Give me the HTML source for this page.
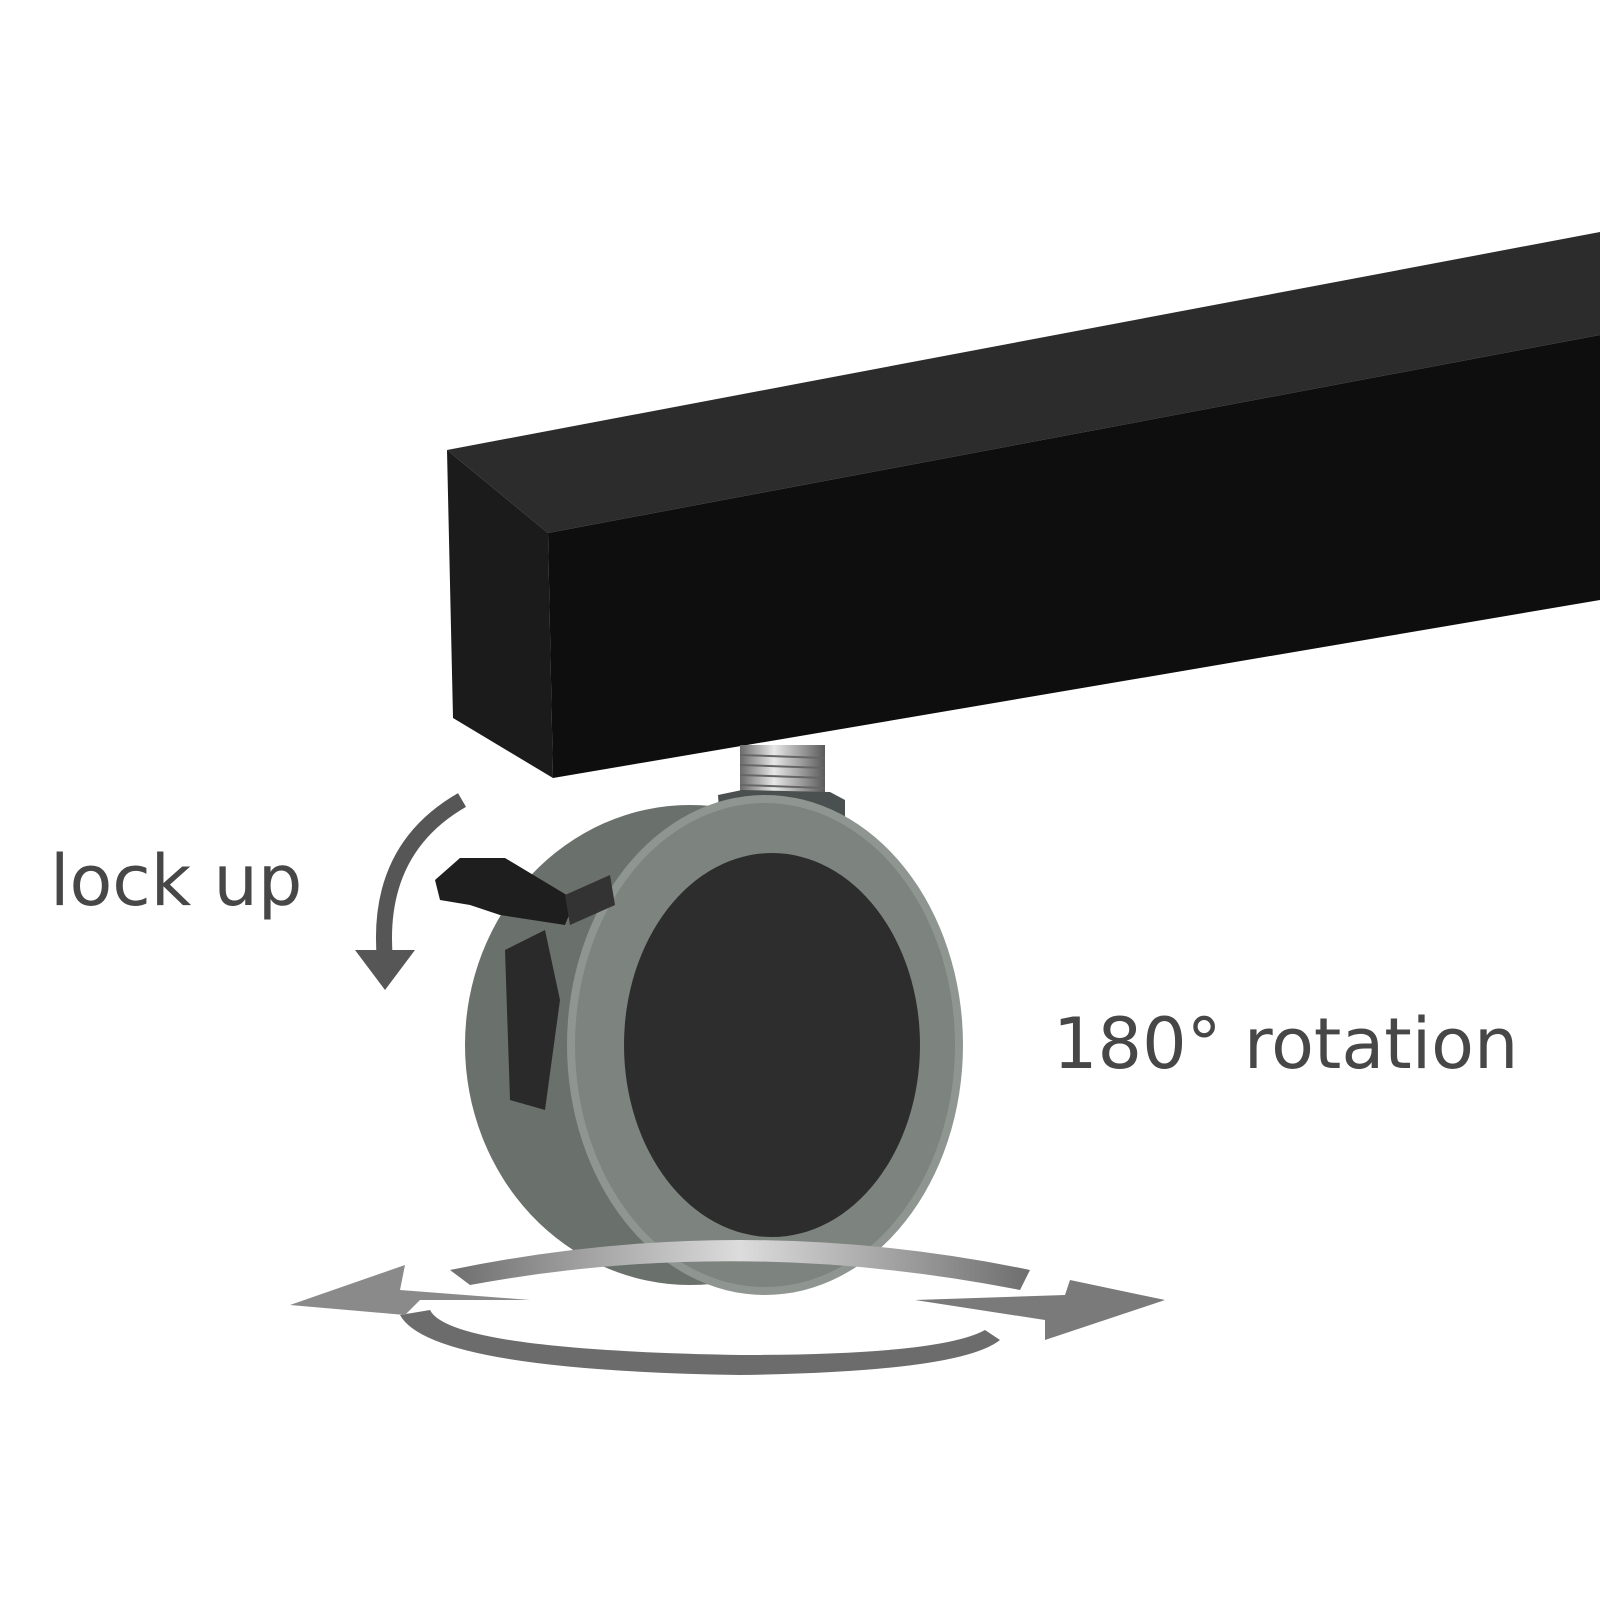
<!DOCTYPE html>
<html><head><style>
html,body{margin:0;padding:0;background:#fff;}
svg{display:block}
text{font-family:"DejaVu Sans","Liberation Sans",sans-serif;fill:#474747;}
</style></head><body>
<svg width="1600" height="1600" viewBox="0 0 1600 1600" xmlns="http://www.w3.org/2000/svg">
<defs>
<linearGradient id="scr" x1="0" x2="1" y1="0" y2="0">
<stop offset="0" stop-color="#6a6a6a"/><stop offset="0.4" stop-color="#e8e8e8"/><stop offset="1" stop-color="#5a5a5a"/></linearGradient>
<linearGradient id="ring" x1="0" x2="1" y1="0" y2="0">
<stop offset="0" stop-color="#6e6e6e"/><stop offset="0.5" stop-color="#dcdcdc"/><stop offset="1" stop-color="#6e6e6e"/></linearGradient>
</defs>
<!-- beam -->
<polygon points="447,450 1600,232 1600,335 548,533" fill="#2c2c2c"/>
<polygon points="447,450 548,533 553,778 453,718" fill="#1b1b1b"/>
<polygon points="548,533 1600,335 1600,600 553,778" fill="#0e0e0e"/>
<!-- screw -->
<rect x="740" y="745" width="85" height="60" fill="url(#scr)"/>
<g stroke="#666" stroke-width="2">
<line x1="740" y1="755" x2="825" y2="758"/><line x1="740" y1="765" x2="825" y2="768"/><line x1="740" y1="775" x2="825" y2="778"/><line x1="740" y1="785" x2="825" y2="788"/><line x1="740" y1="795" x2="825" y2="798"/></g>
<!-- stem housing -->
<polygon points="718,795 742,790 830,792 845,800 845,880 800,870 720,825" fill="#4a4f50"/>
<!-- wheel back band -->
<ellipse cx="690" cy="1045" rx="225" ry="240" fill="#6a706c"/>
<!-- wheel face -->
<ellipse cx="765" cy="1045" rx="198" ry="250" fill="#8f9691"/>
<ellipse cx="765" cy="1045" rx="190" ry="242" fill="#7d847f"/>
<ellipse cx="772" cy="1045" rx="148" ry="192" fill="#2d2d2d"/>
<!-- lock mechanism -->
<polygon points="505,950 545,930 560,1000 545,1110 510,1100" fill="#2a2a2a"/>
<polygon points="435,880 460,858 505,858 575,900 565,925 500,915 470,905 440,900" fill="#1e1e1e"/>
<polygon points="565,895 610,875 615,905 570,925" fill="#333"/>
<!-- curved arrow -->
<path d="M462,800 Q375,850 385,960" fill="none" stroke="#565656" stroke-width="16"/>
<polygon points="355,950 415,950 385,990" fill="#565656"/>
<!-- rotation ring -->
<path d="M450,1270 Q740,1210 1030,1270 L1020,1290 Q740,1235 470,1285 Z" fill="url(#ring)"/>
<path d="M400,1315 Q430,1370 740,1375 Q960,1372 1000,1340 L985,1330 Q940,1355 740,1355 Q450,1350 430,1310 Z" fill="#6c6c6c"/>
<polygon points="290,1305 405,1265 400,1290 530,1300 420,1300 405,1315" fill="#8a8a8a"/>
<polygon points="1165,1300 1045,1340 1045,1320 915,1300 1065,1295 1070,1280" fill="#7a7a7a"/>
<!-- text -->
<text x="50" y="905" font-size="70">lock up</text>
<text x="1053" y="1068" font-size="70">180° rotation</text>
</svg>
</body></html>
